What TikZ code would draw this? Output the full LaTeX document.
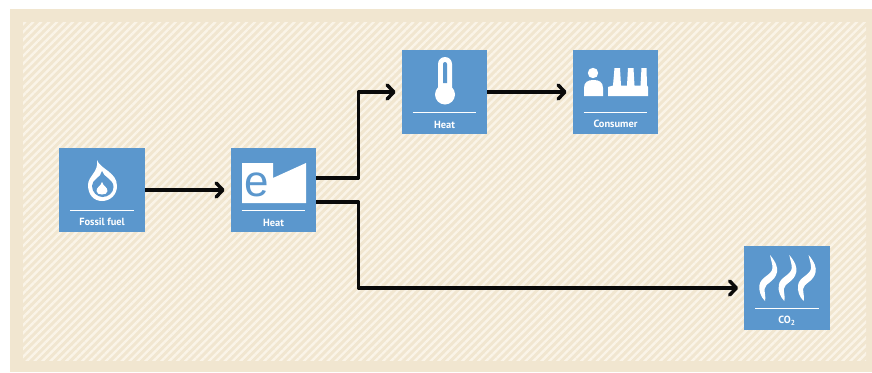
\documentclass[tikz,border=0pt]{standalone}
\usepackage{xcolor}
\usepackage{fontspec}
\setmainfont{PT Sans}
\newfontfamily\plantfont{Liberation Sans}
\usetikzlibrary{arrows.meta,arrows}
\usetikzlibrary{patterns.meta}
\usetikzlibrary{calc}
\definecolor{panelbeige}{RGB}{241,230,208}
\definecolor{stripelight}{RGB}{250,244,232}
\definecolor{boxblue}{RGB}{91,151,205}
\definecolor{flowblack}{RGB}{10,10,10}
\tikzset{
  blockbox/.style={fill=boxblue, draw=none, minimum width=64pt, minimum height=63.5pt, inner sep=0pt},
  captiontext/.style={text=white, font=\bfseries\fontsize{7.8}{8}\selectfont, inner sep=0pt},
  ruleline/.style={draw=white, line width=0.8pt},
  iconfill/.style={fill=white, draw=none},
  iconcut/.style={fill=boxblue, draw=none},
  flow/.style={draw=flowblack, line width=2.6pt, line join=round, shorten >=4.5pt, -{Straight Barb[length=5pt,width=10.5pt,round]}},
}
\begin{document}
\begin{tikzpicture}[x=0.75pt,y=-0.75pt]
\useasboundingbox (0,0) rectangle (872,372);
\fill[panelbeige] (10,9) rectangle (872,372);
\fill[pattern={Lines[angle=45,distance=4.2pt,line width=1.8pt]}, pattern color=stripelight] (23,22) rectangle (866,360);

\node[blockbox] (fuel) at (102,190) {};
\node[blockbox] (plant) at (273.5,190) {};
\node[blockbox] (thermo) at (444.5,92) {};
\node[blockbox] (consumer) at (615.5,92) {};
\node[blockbox] (exhaust) at (787,288) {};

\foreach \boxname in {fuel,plant,thermo,consumer,exhaust}
  \draw[ruleline] ($(\boxname.south west)+(11,-22)$) -- ($(\boxname.south east)+(-11,-22)$);

\node[captiontext] (fuellabel) at (102,222) {Fossil fuel};
\node[captiontext] (plantlabel) at (273.5,222.5) {Heat};
\node[captiontext] (thermolabel) at (444.5,124.5) {Heat};
\node[captiontext] (consumerlabel) at (615.5,123.5) {Consumer};
\node[captiontext] (exhaustlabel) at (787,321) {CO\textsubscript{2}};

\fill[iconfill] (97,160) .. controls (100,169) and (117,172) .. (117,186) .. controls (117,195) and (110,201) .. (102,201) .. controls (94,201) and (88,195) .. (88,185) .. controls (88,176) and (99,172) .. (97,160) -- cycle;
\fill[iconcut] (102,171) .. controls (103,177) and (113.5,179) .. (113.5,187) .. controls (113.5,193) and (108,197) .. (102.5,197) .. controls (97,197) and (92,192) .. (92,186) .. controls (92,179) and (101,178) .. (102,171) -- cycle;
\fill[iconfill] (102,182) .. controls (103,186) and (107.5,187) .. (107.5,191) .. controls (107.5,193.5) and (105,194.5) .. (102,194.5) .. controls (99,194.5) and (96.5,193.5) .. (96.5,191) .. controls (96.5,187) and (101,186) .. (102,182) -- cycle;

\fill[iconfill] (242,163) -- (273,163) -- (273,178) -- (306,163) -- (306,203) -- (242,203) -- cycle;
\node[text=boxblue, font=\plantfont\fontsize{33}{33}\selectfont, inner sep=0pt] (plantmark) at (257,185) {e};

\fill[iconfill] (438,64) arc[start angle=180, end angle=360, radius=7] -- (452,87) -- (438,87) -- cycle;
\fill[iconfill] (445,94.5) circle[radius=10];
\fill[iconcut] (443,64) arc[start angle=180, end angle=360, radius=2] -- (447,83) -- (443,83) -- cycle;

\fill[iconfill] (593,73) circle[radius=5.2];
\fill[iconfill] (584,96) -- (584,88) .. controls (584,82) and (588,80) .. (593.5,80) .. controls (599,80) and (603,82) .. (603,88) -- (603,96) -- cycle;
\fill[iconfill] (608,96) -- (608,87) -- (613,85.5) -- (614.5,68) -- (620,68) -- (621,85.5) -- (627,85.5) -- (628,68) -- (633.5,68) -- (634.5,85.5) -- (640.5,85.5) -- (641.5,68) -- (646.5,68) -- (647,85.5) -- (648,87) -- (648,96) -- cycle;

\foreach \wavex in {0,19.3,38.6}
  \fill[iconfill, xshift=\wavex*0.75pt] (770,255) .. controls (776,262) and (778,268) .. (777,272) .. controls (775,282) and (765,283) .. (764.5,289) .. controls (764.5,293) and (766,297) .. (765,301) .. controls (761,297) and (758.5,291) .. (759.5,285) .. controls (760.5,277) and (772,275) .. (772.5,268) .. controls (772.5,264) and (771,260) .. (770,255) -- cycle;

\draw[flow] (fuel) -- (plant);
\draw[flow] (thermo) -- (consumer);
\draw[flow] ([yshift=9pt]plant.east) -- ++(42,0) |- (thermo.west);
\draw[flow] ([yshift=-9pt]plant.east) -- ++(42,0) |- (exhaust.west);
\end{tikzpicture}
\end{document}
